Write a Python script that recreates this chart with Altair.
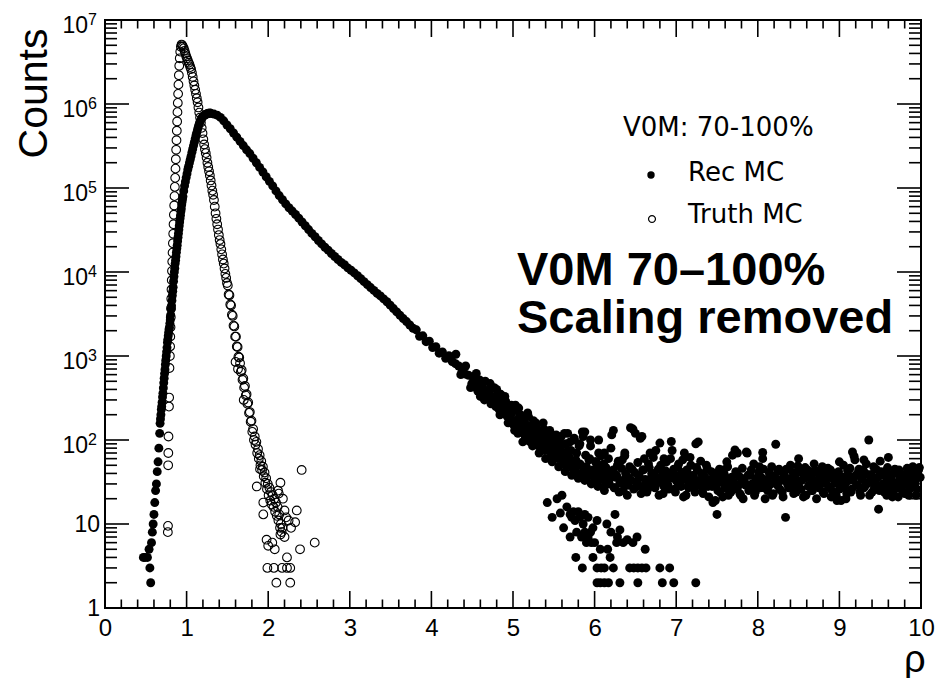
import altair as alt
import pandas as pd

# ---------------- data ----------------
# Rec MC (filled circles)
rec_low_x = [0.47, 0.49, 0.52, 0.54, 0.55, 0.56, 0.57, 0.58, 0.59, 0.60, 0.61, 0.62, 0.63, 0.64, 0.65, 0.66, 0.67]
rec_low_y = [4, 4, 4, 5, 3, 2, 6, 8, 10, 13, 18, 25, 30, 42, 55, 80, 120]

rec_rise_start, rec_rise_step = 0.675, 0.005
rec_rise_counts = [158, 178, 200, 230, 251, 282, 324, 360, 417, 479,
                   543, 617, 690, 794, 891, 1000, 1120, 1260, 1450, 1580,
                   1740, 1905, 2090, 2200, 2450, 2690, 3090, 3600, 3980, 4570,
                   5250, 5890, 6600, 7760, 8810, 10000, 11100, 12600, 13800, 15300,
                   17200, 19100, 20800, 23400, 26000, 28800, 32000, 35500, 39500, 43200,
                   47300, 52500, 56800, 63100, 68400, 74100]

rec_peak_start, rec_peak_step = 0.955, 0.01
rec_peak_counts = [79400, 92300, 106000, 119000, 133000, 148000, 166000, 182000, 200000, 219000,
                   240000, 266000, 292000, 320000, 351000, 385000, 422000, 457000, 501000, 543000,
                   582000, 617000, 646000, 676000, 700000, 716000, 733000, 741000, 750000, 759000,
                   767000, 778000, 772000, 781000, 774000]

rec_fall_start, rec_fall_step = 1.335, 0.04
rec_fall_counts = [759000, 736000, 692000, 631000, 562000, 507000, 452000, 403000, 359000, 320000,
                   285000, 257000, 226000, 200000, 176000, 155000, 136000, 120000, 106000, 92300,
                   81300, 72400, 64600, 58200, 53100, 48400, 43700, 39400, 35500, 32000,
                   28800, 26300, 23700, 21600, 19700, 18200, 16600, 15300, 14100, 13000,
                   12200, 11200, 10500, 9770, 9020, 8320, 7670, 7080, 6530, 6030,
                   5560, 5190, 4790, 4420, 4030, 3670, 3350, 3050, 2790, 2570,
                   2340, 2140, 2050, 1720, 1740, 1480, 1500, 1260, 1290, 1080,
                   1120, 940, 1010, 860, 810, 760, 650, 610, 590, 470,
                   520, 400, 440, 330, 380, 290, 330, 250, 290, 225,
                   260, 200, 230]

rec_tail_start, rec_tail_step = 5.04, 0.02
rec_tail_counts = [170, 120, 200, 150, 95, 160, 130, 210, 110, 140,
                   85, 125, 160, 100, 70, 115, 90, 135, 60, 95,
                   75, 110, 55, 85, 65, 100, 48, 72, 58, 88,
                   42, 62, 50, 95, 38, 55, 45, 70, 35, 52,
                   40, 110, 33, 48, 38, 60, 30, 44, 36, 55,
                   28, 40, 65, 34, 25, 47, 38, 30, 80, 42,
                   27, 36, 50, 24, 33, 58, 30, 40, 22, 35,
                   140, 45, 26, 120, 32, 38, 105, 28, 44, 34,
                   24, 52, 30, 40, 62, 27, 36, 45, 92, 31,
                   23, 40, 55, 29, 35, 96, 42, 26, 33, 48,
                   38, 28, 58, 34, 22, 40, 30, 50, 36, 27,
                   90, 44, 32, 56, 25, 38, 30, 46, 21, 34,
                   28, 40, 19, 13, 31, 24, 37, 44, 27, 33,
                   22, 30, 36, 26, 76, 40, 29, 23, 35, 20,
                   31, 72, 38, 26, 44, 30, 22, 34, 28, 48,
                   36, 71, 27, 33, 25, 41, 30, 22, 37, 89,
                   29, 45, 34, 24, 40, 12, 31, 27, 50, 35,
                   23, 38, 30, 42, 26, 33, 21, 47, 36, 28,
                   39, 25, 32, 44, 20, 34, 29, 41, 24, 37,
                   30, 46, 27, 21, 35, 40, 22, 31, 26, 19,
                   36, 28, 20, 43, 33, 24, 72, 64, 38, 29,
                   45, 22, 34, 27, 40, 30, 100, 36, 24, 48,
                   31, 26, 15, 56, 38, 28, 42, 22, 33, 27,
                   39, 24, 45, 30, 21, 36, 28, 33, 23, 40,
                   30, 26, 35, 48, 29, 22, 38, 47]

rec_tail2_start, rec_tail2_step = 4.51, 0.02
rec_tail2_counts = [560, 430, 470, 380, 520, 350, 410, 300, 390, 330,
                    360, 270, 310, 420, 250, 300, 230, 350, 260, 210,
                    290, 190, 240, 170, 220, 150, 260, 140, 180, 200,
                    130, 170, 110, 150, 190, 95, 140, 120, 105, 150,
                    85, 120, 100, 130, 75, 110, 90, 125, 65, 100,
                    80, 115, 60, 95, 110, 70, 52, 90, 120, 62,
                    75, 46, 105, 58, 40, 85, 50, 125, 44, 66,
                    36, 58, 100, 42, 31, 55, 48, 70, 34, 45,
                    52, 29, 40, 60, 35, 115, 44, 27, 38, 56,
                    31, 46, 25, 70, 37, 29, 48, 33, 135, 41,
                    28, 54, 36, 23, 44, 60, 32, 26, 47, 35,
                    40, 29, 75, 34, 22, 50, 38, 28, 43, 33,
                    26, 60, 37, 45, 24, 32, 52, 30, 41, 21,
                    35, 44, 27, 62, 31, 38, 24, 47, 33, 29,
                    40, 23, 36, 50, 28, 33, 42, 18, 30, 37,
                    25, 45, 32, 21, 39, 28, 48, 34, 24, 66,
                    31, 42, 27, 37, 22, 46, 33, 29, 70, 25,
                    38, 30, 52, 24, 35, 41, 27, 32, 45, 20,
                    34, 28, 39, 48, 23, 36, 30, 43, 26, 33,
                    21, 37, 45, 29, 34, 27, 41, 31, 24, 49,
                    32, 26, 40, 35, 22, 44, 29, 37, 25, 52,
                    30, 41, 27, 35, 48, 23, 33, 39, 28, 44,
                    25, 36, 31, 19, 42, 34, 27, 50, 30, 23,
                    38, 46, 26, 33, 58, 29, 41, 24, 35, 44,
                    28, 52, 31, 22, 39, 34, 27, 45, 36, 25,
                    42, 30, 24, 37, 47, 29, 35, 21, 40, 31,
                    27, 44, 33, 25, 38, 30, 46, 22, 35, 29,
                    41, 32, 26, 44, 36]

rec_branch_x = [5.42, 5.48, 5.54, 5.58, 5.60, 5.66, 5.70, 5.72, 5.74, 5.76,
                5.80, 5.82, 5.86, 5.88, 5.92, 5.98, 6.03, 5.78, 5.84, 5.88,
                5.90, 5.92, 5.95, 5.96, 6.00, 6.07, 5.77, 5.98, 6.16, 6.19,
                6.15, 6.25, 6.31, 6.27, 6.35, 6.47, 6.52, 6.62, 6.20, 6.28,
                6.40, 5.62, 5.70, 5.85, 6.03, 6.08, 6.12, 6.23, 6.43, 6.48,
                6.53, 6.58, 6.63, 6.80, 6.92, 6.03, 6.07, 6.12, 6.17, 6.31,
                6.53, 6.83, 6.97, 7.24]
rec_branch_y = [18, 12, 20, 13.5, 22, 16, 13, 12, 14, 11,
                14, 12, 10, 13, 12, 9, 11, 8, 7, 8,
                6, 7, 8, 6, 6, 5, 4, 4, 5, 4,
                10, 13, 8.5, 6, 6, 6, 7, 5, 8, 7,
                6.5, 9, 7, 3, 3, 3, 3, 3, 3, 3,
                3, 3, 3, 3, 3, 2, 2, 2, 2, 2,
                2, 2, 2, 2]

rec_scatter_x = [4.30, 4.36, 4.42, 4.48, 4.55, 4.60, 4.66, 4.72, 4.76, 4.80,
                 4.84, 4.90, 4.94, 4.98, 5.02, 5.07, 5.13, 5.17, 5.25, 5.30,
                 5.33, 5.37, 5.45, 5.52, 5.57, 5.63, 5.68, 5.75, 5.82, 5.88,
                 5.95, 6.05, 6.23, 6.12, 6.37, 6.58, 6.68, 6.85, 6.95, 7.27,
                 7.10, 7.62, 7.75, 8.06, 8.50, 9.00, 9.30, 9.60]
rec_scatter_y = [1050, 600, 760, 420, 620, 330, 500, 470, 280, 400,
                 200, 330, 160, 260, 130, 240, 190, 100, 170, 130,
                 90, 160, 130, 110, 80, 120, 75, 100, 90, 125,
                 85, 100, 130, 70, 65, 110, 70, 60, 75, 95,
                 70, 55, 70, 60, 60, 55, 58, 62]

# Truth MC (open circles)
truth_rise_x = [0.770, 0.772, 0.774, 0.776, 0.778, 0.784, 0.786, 0.790, 0.795, 0.798,
                0.800, 0.803, 0.806, 0.809, 0.812, 0.815, 0.818, 0.821, 0.824, 0.828,
                0.832, 0.836, 0.840, 0.844, 0.848, 0.852, 0.856, 0.860, 0.864, 0.868,
                0.872, 0.876, 0.880, 0.884, 0.888, 0.892, 0.896, 0.900, 0.905, 0.910,
                0.916, 0.922, 0.930, 0.938, 0.946]
truth_rise_y = [8, 9.5, 50, 70, 110, 250, 320, 720, 1000, 1300,
                1700, 2200, 2900, 3700, 4800, 6200, 8000, 10300, 13300, 17000,
                22000, 28500, 37000, 48000, 62000, 80000, 103000, 132000, 170000, 220000,
                285000, 370000, 480000, 620000, 800000, 1030000, 1320000, 1700000, 2200000, 2850000,
                3500000, 4200000, 4800000, 5100000, 5000000]

truth_fall_start, truth_fall_step = 0.955, 0.01
truth_fall_counts = [4800000, 4600000, 4300000, 4000000, 3700000, 3500000, 3300000, 3100000, 2950000, 2750000,
                     2600000, 2350000, 2100000, 1860000, 1660000, 1480000, 1320000, 1170000, 1050000, 910000,
                     790000, 690000, 600000, 520000, 450000, 380000, 330000, 290000, 260000, 230000,
                     200000, 178000, 158000, 141000, 123000, 107000, 93000, 83000, 72000, 60000,
                     50000, 43000, 37000, 32000, 27500, 24000, 21500, 18600, 16200, 14100,
                     12600, 11000, 9500, 8500, 7400, 6900, 5400, 5300, 4100, 4000,
                     3100, 3000, 2300, 2250, 1700, 1700, 1300, 1280, 980, 960,
                     820, 650, 680, 520, 540, 420, 440, 340, 350, 270,
                     280, 210, 215, 165, 170, 125, 135, 100, 110, 88,
                     95, 70, 78, 60, 66, 50, 56, 44, 48, 37,
                     41, 31, 35, 26, 30, 22, 27, 19, 24, 17,
                     22, 16, 20, 14, 18, 12.5, 16, 11, 13, 9,
                     10, 8, 9]

truth_scatter_x = [1.60, 1.63, 1.70, 1.86, 1.90, 1.94, 1.94, 1.98, 2.00, 2.05,
                   2.08, 1.99, 2.07, 2.17, 2.23, 2.27, 2.10, 2.27, 2.15, 2.20,
                   2.22, 2.33, 2.35, 2.41, 2.39, 2.23, 2.57, 2.13, 2.18, 2.25,
                   2.28, 2.15, 2.20, 2.12]
truth_scatter_y = [850, 700, 300, 28, 45, 18, 13, 6.5, 5.5, 6,
                   5, 3, 3, 3, 3, 3, 2, 2, 31, 14.5,
                   12, 10.5, 14.5, 44, 5, 4, 6, 23, 20, 11,
                   9, 7.5, 7, 25]

# axes / text
x_major = [0, 1, 2, 3, 4, 5, 6, 7, 8, 9, 10]
y_power_values = [100, 1000, 10000, 100000, 1000000, 10000000]
y_power_exps = ["2", "3", "4", "5", "6", "7"]
y_plain_values = [1, 10]
y_plain_text = ["1", "10"]
legend_header = "V0M: 70-100%"
series_names = ["Rec MC", "Truth MC"]
annotation_lines = ["V0M 70\u2013100%", "Scaling removed"]
x_title = "\u03c1"
y_title = "Counts"

# ---------------- build ----------------
def grid(start, step, counts):
    return [round(start + i * step, 4) for i in range(len(counts))]

rec_x = (rec_low_x + grid(rec_rise_start, rec_rise_step, rec_rise_counts)
         + grid(rec_peak_start, rec_peak_step, rec_peak_counts)
         + grid(rec_fall_start, rec_fall_step, rec_fall_counts)
         + grid(rec_tail_start, rec_tail_step, rec_tail_counts)
         + grid(rec_tail2_start, rec_tail2_step, rec_tail2_counts)
         + rec_branch_x + rec_scatter_x)
rec_y = (rec_low_y + rec_rise_counts + rec_peak_counts + rec_fall_counts
         + rec_tail_counts + rec_tail2_counts + rec_branch_y + rec_scatter_y)
truth_x = truth_rise_x + grid(truth_fall_start, truth_fall_step, truth_fall_counts) + truth_scatter_x
truth_y = truth_rise_y + truth_fall_counts + truth_scatter_y

rec_df = pd.DataFrame({"rho": rec_x, "counts": rec_y})
truth_df = pd.DataFrame({"rho": truth_x, "counts": truth_y})

W, H = 816, 588
FONT = "Liberation Sans"
xscale = alt.Scale(domain=[0, 10], nice=False, zero=False)
yscale = alt.Scale(type="log", domain=[1, 1e7], nice=False)

x_axis = alt.Axis(values=x_major, format="d", labelFontSize=24, labelFont=FONT,
                  labelColor="black", labelPadding=27, labelBaseline="alphabetic",
                  labelFlush=False, labelOverlap=False, ticks=False, tickSize=0,
                  domain=False, grid=False, title=x_title, titleFont=FONT,
                  titleFontSize=38, titleFontWeight="normal", titleColor="black",
                  titleX=W + 4, titleY=63, titleAlign="right",
                  titleBaseline="alphabetic", titleAnchor="end")
y_axis = alt.Axis(labels=False, ticks=False, tickSize=0, domain=False, grid=False,
                  title=y_title, titleFont=FONT, titleFontSize=41,
                  titleFontWeight="normal", titleColor="black", titleAngle=270,
                  titleX=-59, titleY=8, titleAlign="right",
                  titleBaseline="alphabetic", titleAnchor="end")

def X(field):
    return alt.X(field, type="quantitative", scale=xscale, axis=x_axis)

def Y(field):
    return alt.Y(field, type="quantitative", scale=yscale, axis=y_axis)

rec_layer = alt.Chart(rec_df).mark_point(
    shape="circle", filled=True, size=80, color="black", opacity=1, strokeWidth=0
).encode(x=X("rho"), y=Y("counts"))

truth_layer = alt.Chart(truth_df).mark_point(
    shape="circle", filled=False, size=76, color="black", opacity=1, strokeWidth=1.1
).encode(x=X("rho"), y=Y("counts"))

# inner ticks (ROOT style)
xt_major = pd.DataFrame({"rho": x_major})
xt_minor = pd.DataFrame({"rho": [round(i * 0.2, 1) for i in range(51) if i % 5]})
yt_major = pd.DataFrame({"counts": [1] + [10 ** e for e in range(1, 8)]})
yt_minor = pd.DataFrame({"counts": [m * 10 ** e for e in range(7) for m in range(2, 10)]})

def xticks(df, a, b):
    return alt.Chart(df).mark_rule(color="black", strokeWidth=1.6).encode(
        x=X("rho"), y=alt.value(a), y2=alt.value(b))

def yticks(df, a, b):
    return alt.Chart(df).mark_rule(color="black", strokeWidth=1.6).encode(
        y=Y("counts"), x=alt.value(a), x2=alt.value(b))

tick_layers = [
    xticks(xt_major, H, H - 17), xticks(xt_minor, H, H - 8.5),
    xticks(xt_major, 0, 17), xticks(xt_minor, 0, 8.5),
    yticks(yt_major, 0, 24), yticks(yt_minor, 0, 12),
    yticks(yt_major, W, W - 24), yticks(yt_minor, W, W - 12),
]

# y labels with exponents
ypow = pd.DataFrame({"counts": y_power_values, "base": ["10"] * len(y_power_values), "exp": y_power_exps})
yplain = pd.DataFrame({"counts": y_plain_values, "t": y_plain_text})
ybase_layer = alt.Chart(ypow).mark_text(font=FONT, fontSize=23, align="right",
                                        baseline="alphabetic", dy=13, color="black").encode(
    y=Y("counts"), x=alt.value(-17), text="base:N")
yexp_layer = alt.Chart(ypow).mark_text(font=FONT, fontSize=16, align="left",
                                       baseline="alphabetic", dy=5, color="black").encode(
    y=Y("counts"), x=alt.value(-17), text="exp:N")
yplain_layer = alt.Chart(yplain).mark_text(font=FONT, fontSize=23, align="right",
                                           baseline="middle", dy=1, color="black").encode(
    y=Y("counts"), x=alt.value(-5), text="t:N")

# legend
LFONT = "DejaVu Sans"
leg_head = alt.Chart(pd.DataFrame({"t": [legend_header]})).mark_text(
    font=LFONT, fontSize=26, align="left", baseline="alphabetic", color="black"
).encode(x=alt.value(518), y=alt.value(116), text="t:N")
leg_rec_txt = alt.Chart(pd.DataFrame({"t": [series_names[0]]})).mark_text(
    font=LFONT, fontSize=26, align="left", baseline="alphabetic", color="black"
).encode(x=alt.value(583), y=alt.value(161), text="t:N")
leg_truth_txt = alt.Chart(pd.DataFrame({"t": [series_names[1]]})).mark_text(
    font=LFONT, fontSize=26, align="left", baseline="alphabetic", color="black"
).encode(x=alt.value(583), y=alt.value(203), text="t:N")
leg_rec_pt = alt.Chart(pd.DataFrame({"t": [series_names[0]]})).mark_point(
    shape="circle", filled=True, size=55, color="black", opacity=1, strokeWidth=0
).encode(x=alt.value(546), y=alt.value(155))
leg_truth_pt = alt.Chart(pd.DataFrame({"t": [series_names[1]]})).mark_point(
    shape="circle", filled=False, size=48, color="black", opacity=1, strokeWidth=1.2
).encode(x=alt.value(547), y=alt.value(199))

# big annotation
ann1 = alt.Chart(pd.DataFrame({"t": [annotation_lines[0]]})).mark_text(
    font=FONT, fontSize=47, fontWeight="bold", align="left", baseline="alphabetic", color="black"
).encode(x=alt.value(412), y=alt.value(265), text="t:N")
ann2 = alt.Chart(pd.DataFrame({"t": [annotation_lines[1]]})).mark_text(
    font=FONT, fontSize=47, fontWeight="bold", align="left", baseline="alphabetic", color="black"
).encode(x=alt.value(412), y=alt.value(313), text="t:N")

chart = alt.layer(
    rec_layer, truth_layer, *tick_layers, ybase_layer, yexp_layer, yplain_layer,
    leg_head, leg_rec_txt, leg_truth_txt, leg_rec_pt, leg_truth_pt, ann1, ann2
).properties(
    width=W, height=H,
    autosize=alt.AutoSizeParams(type="none"),
    padding={"left": 97, "top": 12, "right": 16, "bottom": 70},
    background="white",
).configure_view(stroke="black", strokeWidth=2)

chart.save("out.html", embed_options={"renderer": "svg", "actions": False})
